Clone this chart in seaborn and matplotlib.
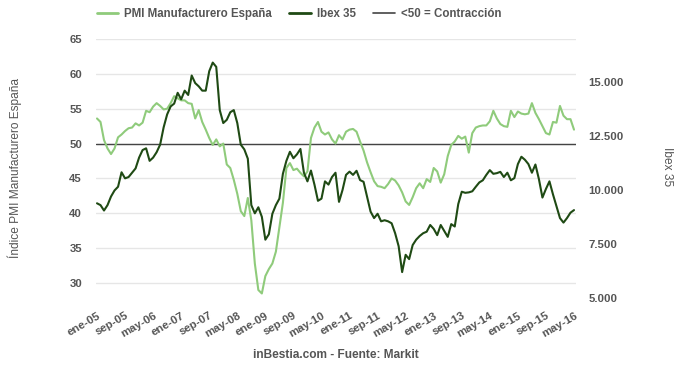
import pandas as pd
import matplotlib
matplotlib.use("Agg")
import matplotlib.pyplot as plt
import seaborn as sns

# Monthly data, ene-05 .. may-16 (137 months)
pmi = [53.6, 53.1, 50.5, 49.3, 48.5, 49.3, 50.9, 51.3, 51.8, 52.2,
       52.3, 52.9, 52.6, 53.0, 54.7, 54.5, 55.3, 55.8, 55.4, 54.9,
       55.0, 55.8, 56.8, 56.5, 56.2, 56.2, 55.8, 55.7, 53.6, 54.8,
       53.1, 52.0, 50.8, 49.8, 50.6, 49.6, 50.0, 47.0, 46.5, 44.8,
       42.8, 40.3, 39.6, 42.2, 39.0, 32.8, 29.0, 28.5, 31.0, 32.0,
       32.8, 34.5, 38.0, 41.5, 46.5, 47.2, 46.2, 46.4, 45.8, 45.3,
       46.0, 50.8, 52.3, 53.1, 51.7, 51.3, 51.6, 50.6, 50.0, 51.2,
       50.6, 51.7, 52.0, 52.1, 51.7, 50.3, 49.0, 47.3, 45.9, 44.6,
       43.9, 43.8, 43.6, 44.2, 45.0, 44.7, 44.0, 43.0, 41.7, 41.2,
       42.3, 43.6, 44.3, 43.6, 44.9, 44.5, 46.5, 46.0, 44.4, 45.6,
       48.2, 49.8, 50.3, 51.1, 50.7, 51.0, 48.7, 51.5, 52.3, 52.5,
       52.6, 52.6, 53.2, 54.7, 53.6, 52.8, 52.5, 52.4, 54.7, 53.8,
       54.6, 54.3, 54.2, 54.3, 55.8, 54.4, 53.5, 52.5, 51.5, 51.3,
       53.1, 53.0, 55.4, 54.0, 53.5, 53.5, 52.0]

ibex = [9385, 9300, 9050, 9300, 9700, 9980, 10150, 10820, 10540, 10600,
        10800, 11000, 11500, 11850, 11930, 11350, 11500, 11750, 12100, 12900,
        13500, 13870, 14000, 14500, 14200, 14600, 14400, 15300, 14950, 14800,
        14600, 14600, 15500, 15900, 15700, 13700, 13100, 13250, 13600, 13700,
        13100, 12100, 11880, 11450, 9300, 8920, 9200, 8760, 7700, 7950,
        8900, 9300, 9600, 10750, 11350, 11770, 11470, 11650, 11900, 10800,
        10400, 10900, 10250, 9500, 9600, 10400, 10250, 10600, 10800, 9450,
        10000, 10700, 10850, 10700, 10890, 10460, 10380, 9700, 9000, 8700,
        8900, 8550, 8600, 8550, 8460, 8000, 7400, 6200, 7000, 6800,
        7450, 7700, 7870, 8000, 8070, 8380, 8200, 7910, 8380, 8100,
        7830, 8420, 8310, 9350, 9920, 9870, 9890, 9940, 10150, 10350,
        10450, 10700, 10920, 10750, 10780, 10840, 10600, 10800, 10450, 10550,
        11200, 11540, 11400, 11200, 10800, 11180, 10500, 9650, 10050, 10400,
        9800, 9250, 8700, 8490, 8700, 8950, 9070]

month_labels = ["ene-05", "sep-05", "may-06", "ene-07", "sep-07", "may-08",
                "ene-09", "sep-09", "may-10", "ene-11", "sep-11", "may-12",
                "ene-13", "sep-13", "may-14", "ene-15", "sep-15", "may-16"]
label_step = 8

left_ticks = [30, 35, 40, 45, 50, 55, 60, 65]
right_ticks = [5000, 7500, 10000, 12500, 15000]
right_labels = ["5.000", "7.500", "10.000", "12.500", "15.000"]

df = pd.DataFrame({"mes": range(len(pmi)), "pmi": pmi, "ibex": ibex})

sns.set_style("white")
plt.rcParams["font.family"] = ["Liberation Sans", "DejaVu Sans"]

c_pmi = "#8fcb7b"
c_ibex = "#1f4a14"
c_line = "#444444"
c_text = "#555555"

fig, ax = plt.subplots(figsize=(6.8, 3.68), dpi=100)
fig.subplots_adjust(left=96 / 680, right=576 / 680, top=1 - 39 / 368, bottom=1 - 298 / 368)

ax2 = ax.twinx()
sns.lineplot(data=df, x="mes", y="pmi", ax=ax, color=c_pmi, linewidth=1.5, zorder=3)
sns.lineplot(data=df, x="mes", y="ibex", ax=ax2, color=c_ibex, linewidth=1.5, zorder=3)
ax.axhline(50, color=c_line, linewidth=1, zorder=2)

ax.set_ylim(27.85, 65)
ax2.set_ylim(5000, 16991)
ax.set_xlim(-0.285, len(pmi) - 1 + 0.57)

ax.set_yticks(left_ticks)
ax.set_yticklabels([str(t) for t in left_ticks])
ax2.set_yticks(right_ticks)
ax2.set_yticklabels(right_labels)
ax.set_xticks(list(range(0, len(pmi), label_step)))
ax.set_xticklabels(month_labels, rotation=30, ha="right", va="top", rotation_mode="anchor")

ax.grid(axis="y", color="#e6e6e6", linewidth=1)
ax.grid(axis="x", visible=False)
ax2.grid(False)
for a in (ax, ax2):
    for s in a.spines.values():
        s.set_visible(False)
    a.set_xlabel("")
    a.set_ylabel("")
ax.patch.set_visible(False)

ax.tick_params(axis="y", length=0, pad=10, labelsize=8.2, labelcolor=c_text)
ax.tick_params(axis="x", length=0, pad=9, labelsize=8.2, labelcolor=c_text)
ax2.tick_params(axis="y", length=0, pad=9, labelsize=8.2, labelcolor=c_text)
for lab in ax.get_yticklabels() + ax2.get_yticklabels() + ax.get_xticklabels():
    lab.set_fontweight("bold")

fig.text(15 / 680, 1 - 168 / 368, "Índice PMI Manufacturero España", rotation=90,
         ha="center", va="center", fontsize=8.6, color=c_text)
fig.text(667 / 680, 1 - 167 / 368, "Ibex 35", rotation=270,
         ha="center", va="center", fontsize=8.6, color=c_text)
fig.text(336 / 680, 1 - 355 / 368, "inBestia.com - Fuente: Markit",
         ha="center", va="center", fontsize=8.6, color=c_text, fontweight="bold")

handles = [plt.Line2D([], [], color=c_pmi, linewidth=2),
           plt.Line2D([], [], color=c_ibex, linewidth=2),
           plt.Line2D([], [], color=c_line, linewidth=1.2)]
names = ["PMI Manufacturero España", "Ibex 35", "<50 = Contracción"]
leg = fig.legend(handles, names, loc="center", bbox_to_anchor=(299 / 680, 1 - 14 / 368),
                 ncol=3, frameon=False, handlelength=1.9, handletextpad=0.5,
                 columnspacing=1.5, prop={"size": 8.3, "weight": "bold"})
for t in leg.get_texts():
    t.set_color(c_text)

fig.savefig("out.png", dpi=100)
